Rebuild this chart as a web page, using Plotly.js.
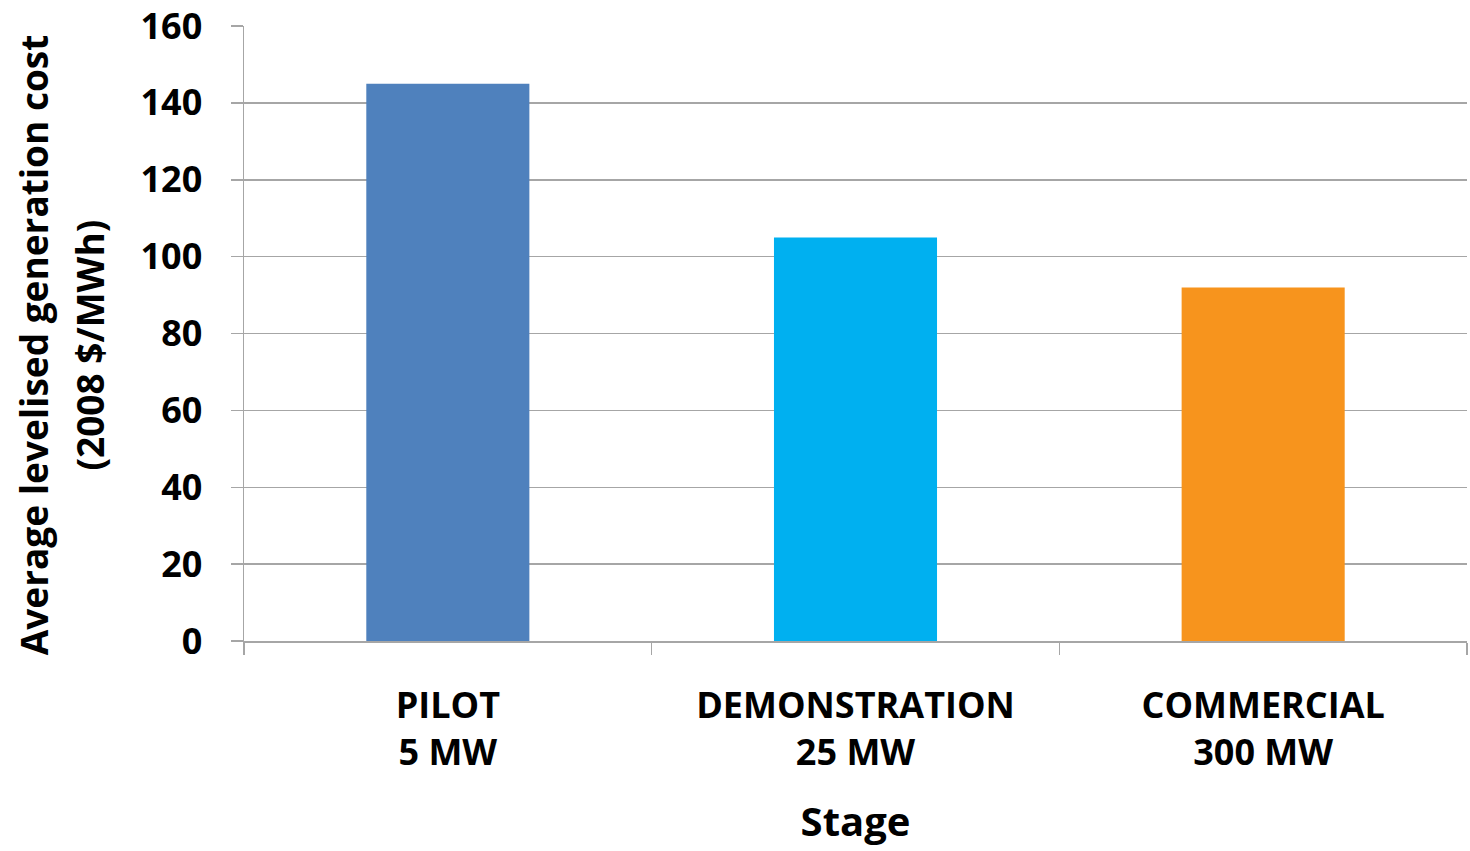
<!DOCTYPE html>
<html>
<head>
<meta charset="utf-8">
<script src="https://cdn.plot.ly/plotly-3.0.1.min.js"></script>
<style>html,body{margin:0;padding:0;background:#fff;}#chart{width:1470px;height:851px;}</style>
</head>
<body>
<div id="chart"></div>
<script>
const categories = ["PILOT<br>5 MW", "DEMONSTRATION<br>25 MW", "COMMERCIAL<br>300 MW"];
const costValues = [145, 105, 92];
const barColors = ["#4F81BD", "#00B0F0", "#F7941D"];
const yTickValues = [0, 20, 40, 60, 80, 100, 120, 140, 160];
const yTitleLines = ["Average levelised generation cost", "(2008 $/MWh)"];
const xTitle = "Stage";

const fontFamily = "'Open Sans', 'Noto Sans', sans-serif";

const trace = {
  type: "bar",
  x: categories,
  y: costValues,
  marker: { color: barColors, line: { width: 0 } },
  hoverinfo: "x+y"
};

const layout = {
  width: 1470,
  height: 851,
  margin: { l: 244, r: 3, t: 26, b: 210 },
  paper_bgcolor: "#ffffff",
  plot_bgcolor: "#ffffff",
  bargap: 0.6,
  showlegend: false,
  font: { family: fontFamily, color: "#000000" },
  xaxis: {
    type: "category",
    tickson: "boundaries",
    ticks: "outside",
    ticklen: 12,
    tickcolor: "#A6A6A6",
    tickwidth: 1.5,
    showline: true,
    linecolor: "#A6A6A6",
    linewidth: 1.5,
    showgrid: false,
    ticklabelstandoff: 32,
    tickfont: { family: fontFamily, size: 36, color: "#000000", weight: "bold" },
    title: { text: "<b>" + xTitle + "</b>", font: { family: fontFamily, size: 40, color: "#000000" }, standoff: 33 }
  },
  yaxis: {
    range: [0, 160],
    tickvals: yTickValues,
    ticks: "outside",
    ticklen: 12,
    tickcolor: "#A6A6A6",
    tickwidth: 1.5,
    showline: true,
    linecolor: "#A6A6A6",
    linewidth: 1.5,
    showgrid: true,
    gridcolor: "#A6A6A6",
    gridwidth: 1.5,
    zeroline: false,
    ticklabelstandoff: 21,
    tickfont: { family: fontFamily, size: 36, color: "#000000", weight: "bold" }
  },
  annotations: [
    {
      text: "<b>" + yTitleLines[0] + "</b>",
      xref: "paper", yref: "paper",
      x: -0.1725, y: 0.481,
      xanchor: "center", yanchor: "middle",
      textangle: -90, showarrow: false,
      font: { family: fontFamily, size: 37, color: "#000000" }
    },
    {
      text: "<b>" + yTitleLines[1] + "</b>",
      xref: "paper", yref: "paper",
      x: -0.1265, y: 0.481,
      xanchor: "center", yanchor: "middle",
      textangle: -90, showarrow: false,
      font: { family: fontFamily, size: 37, color: "#000000" }
    }
  ]
};

Plotly.newPlot("chart", [trace], layout, { displayModeBar: false, staticPlot: true });
</script>
</body>
</html>
